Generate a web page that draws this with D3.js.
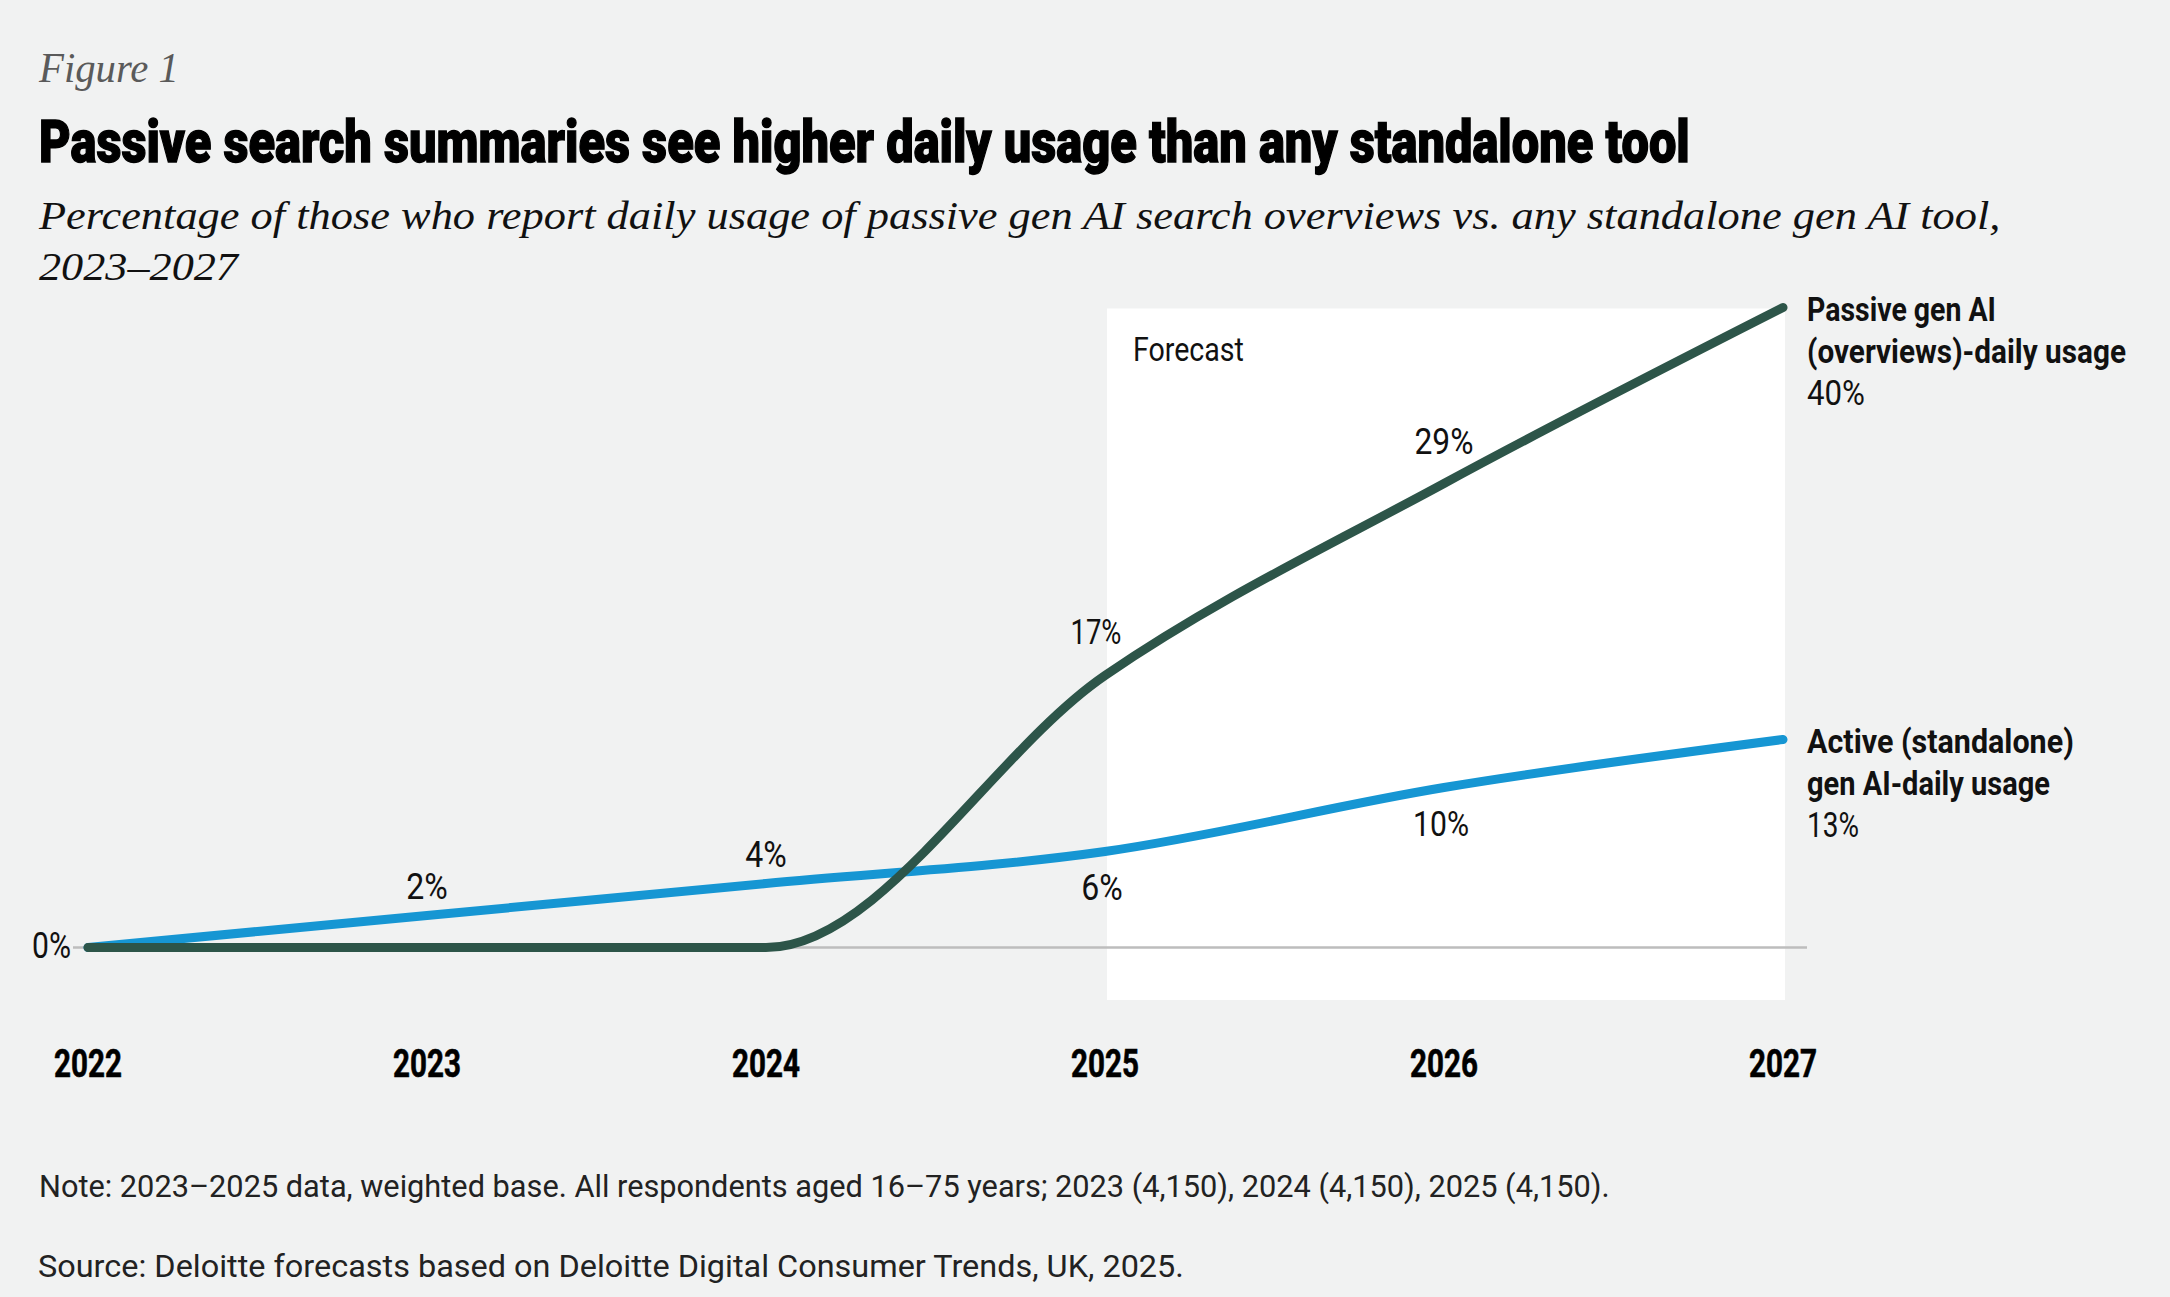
<!DOCTYPE html>
<html>
<head>
<meta charset="utf-8">
<script src="https://cdn.jsdelivr.net/npm/d3@7"></script>
<style>
  html, body { margin: 0; padding: 0; background: #f1f2f2; }
  svg { display: block; }
</style>
</head>
<body>
<svg id="chart" width="2170" height="1297"></svg>
<script>
// ---- Data ----
const years = [2022, 2023, 2024, 2025, 2026, 2027];
const passiveValues = [0, 0, 0, 17, 29, 40];
const activeValues = [0, 2, 4, 6, 10, 13];
const yearLabels = ["2022", "2023", "2024", "2025", "2026", "2027"];
const forecastStart = 2025;
const forecastEnd = 2027;
const passiveName = ["Passive gen AI", "(overviews)-daily usage"];
const activeName = ["Active (standalone)", "gen AI-daily usage"];

const titleText = "Passive search summaries see higher daily usage than any standalone tool";
const figureText = "Figure 1";
const subtitleLines = [
  "Percentage of those who report daily usage of passive gen AI search overviews vs. any standalone gen AI tool,",
  "2023\u20132027"
];
const noteText = "Note: 2023\u20132025 data, weighted base. All respondents aged 16\u201375 years; 2023 (4,150), 2024 (4,150), 2025 (4,150).";
const sourceText = "Source: Deloitte forecasts based on Deloitte Digital Consumer Trends, UK, 2025.";

// ---- Layout ----
const W = 2170, H = 1297;
const SANS = "Roboto, 'Liberation Sans', sans-serif";
const SERIF = "'Liberation Serif', 'DejaVu Serif', serif";
const darkColor = "#2d5549";
const blueColor = "#1696d3";

const svg = d3.select("#chart");
svg.append("rect").attr("width", W).attr("height", H).attr("fill", "#f1f2f2");

const x = d3.scaleLinear().domain([2022, 2027]).range([88, 1783]);
const y = d3.scaleLinear().domain([0, 40]).range([947.5, 307.5]);

// Horizontally scale a text element so that it spans width w (keeps its anchor point)
function fit(sel, w) {
  sel.each(function () {
    const n = this.getComputedTextLength();
    if (!n) return;
    const s = w / n;
    const x0 = +d3.select(this).attr("x");
    d3.select(this).attr("transform",
      `translate(${x0},0) scale(${s},1) translate(${-x0},0)`);
  });
  return sel;
}

// ---- Header ----
fit(svg.append("text").attr("x", 39).attr("y", 82)
  .attr("font-family", SERIF).attr("font-style", "italic").attr("font-size", 42)
  .attr("fill", "#5a5a5a").text(figureText), 140);

fit(svg.append("text").attr("x", 39).attr("y", 162)
  .attr("font-family", SANS).attr("font-weight", 900).attr("font-size", 60)
  .attr("fill", "#000").attr("stroke", "#000").attr("stroke-width", 1.4)
  .text(titleText), 1651);

const subW = [1962, 199];
subtitleLines.forEach((t, i) => {
  fit(svg.append("text").attr("x", 39).attr("y", 229 + i * 51)
    .attr("font-family", SERIF).attr("font-style", "italic").attr("font-size", 40)
    .attr("fill", "#111").text(t), subW[i]);
});

// ---- Forecast band ----
svg.append("rect")
  .attr("x", x(forecastStart) + 2)
  .attr("y", y(40) + 1)
  .attr("width", x(forecastEnd) - x(forecastStart))
  .attr("height", 1000 - (y(40) + 1))
  .attr("fill", "#ffffff");

fit(svg.append("text").attr("x", x(forecastStart) + 28).attr("y", 361)
  .attr("font-family", SANS).attr("font-size", 34).attr("fill", "#111")
  .text("Forecast"), 111);

// ---- Baseline ----
svg.append("line")
  .attr("x1", 73).attr("x2", 1807)
  .attr("y1", y(0)).attr("y2", y(0))
  .attr("stroke", "#bdbdbd").attr("stroke-width", 2.5);

// ---- Lines ----
const line = d3.line()
  .x((d, i) => x(years[i]))
  .y(d => y(d))
  .curve(d3.curveMonotoneX);

svg.append("path").datum(activeValues)
  .attr("d", line).attr("fill", "none")
  .attr("stroke", blueColor).attr("stroke-width", 9)
  .attr("stroke-linecap", "round").attr("stroke-linejoin", "round");

svg.append("path").datum(passiveValues)
  .attr("d", line).attr("fill", "none")
  .attr("stroke", darkColor).attr("stroke-width", 9)
  .attr("stroke-linecap", "round").attr("stroke-linejoin", "round");

// ---- Value labels ----
const pct = v => v + "%";
function valLabel(xx, yy, txt, w, anchor) {
  fit(svg.append("text").attr("x", xx).attr("y", yy)
    .attr("text-anchor", anchor || "middle")
    .attr("font-family", SANS).attr("font-weight", 400).attr("font-size", 36)
    .attr("fill", "#111").text(txt), w);
}
const labW = s => (s.length - 1) * 14.5 + 27;

valLabel(71, y(0) + 11, pct(activeValues[0]), 39, "end");
[1, 2].forEach(i => valLabel(x(years[i]), y(activeValues[i]) - 16, pct(activeValues[i]), labW(pct(activeValues[i]))));
[3, 4].forEach(i => valLabel(x(years[i]) - 3, y(activeValues[i]) + 48.5, pct(activeValues[i]), labW(pct(activeValues[i]))));
valLabel(x(years[3]) - 9, y(passiveValues[3]) - 31, pct(passiveValues[3]), 51);
valLabel(x(years[4]), y(passiveValues[4]) - 29.5, pct(passiveValues[4]), 59);

// ---- End labels ----
function endLabel(lines, widths, val, valW, yy) {
  lines.forEach((t, i) => {
    fit(svg.append("text").attr("x", 1807).attr("y", yy + i * 42)
      .attr("font-family", SANS).attr("font-weight", 700).attr("font-size", 34)
      .attr("fill", "#111").text(t), widths[i]);
  });
  fit(svg.append("text").attr("x", 1807).attr("y", yy + lines.length * 42)
    .attr("font-family", SANS).attr("font-weight", 400).attr("font-size", 35)
    .attr("fill", "#111").text(pct(val)), valW);
}
endLabel(passiveName, [189, 319], passiveValues[5], 58, y(passiveValues[5]) + 14);
endLabel(activeName, [267, 243], activeValues[5], 52, y(activeValues[5]) + 14);

// ---- X axis labels ----
const yearW = 68;
const yearText = svg.append("g").selectAll("text").data(yearLabels).join("text")
  .attr("x", (d, i) => x(years[i]))
  .attr("y", 1077)
  .attr("text-anchor", "middle")
  .attr("font-family", SANS).attr("font-weight", 700).attr("font-size", 38)
  .attr("fill", "#000").attr("stroke", "#000").attr("stroke-width", 0.6)
  .text(d => d);
fit(yearText, yearW);

// ---- Notes ----
fit(svg.append("text").attr("x", 39).attr("y", 1197)
  .attr("font-family", SANS).attr("font-size", 31).attr("fill", "#222")
  .text(noteText), 1571);
fit(svg.append("text").attr("x", 38).attr("y", 1277)
  .attr("font-family", SANS).attr("font-size", 31).attr("fill", "#222")
  .text(sourceText), 1146);
</script>
</body>
</html>
